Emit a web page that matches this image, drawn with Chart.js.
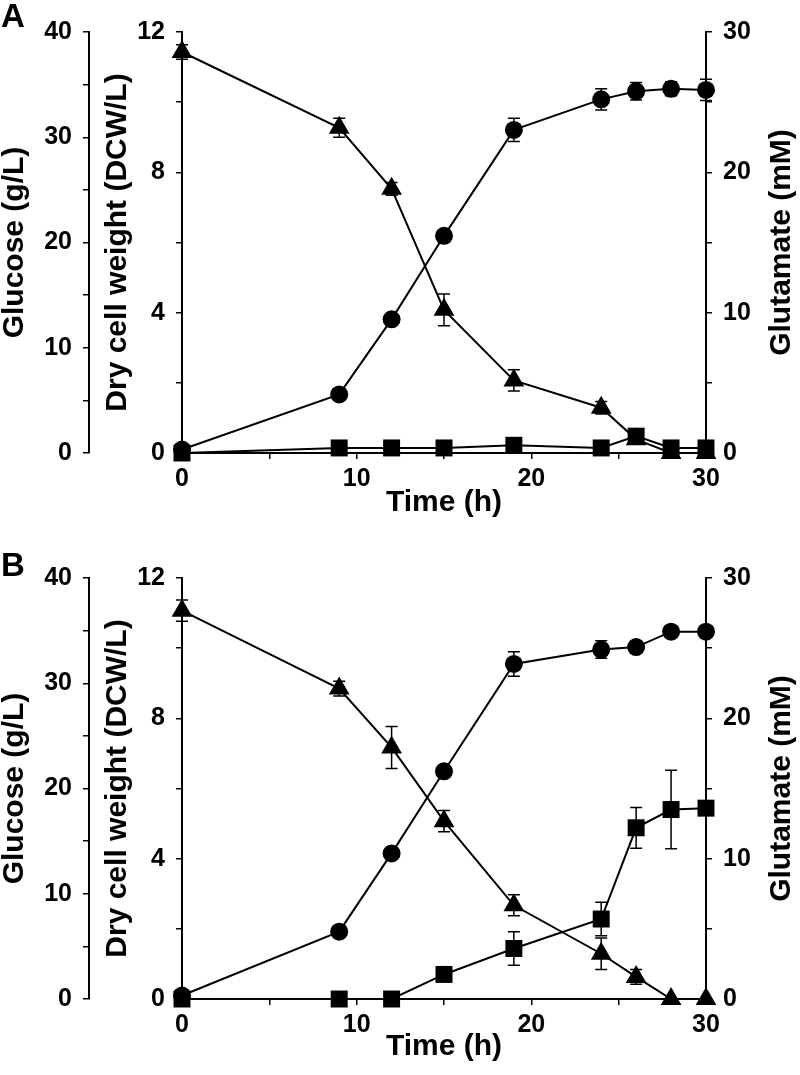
<!DOCTYPE html>
<html>
<head>
<meta charset="utf-8">
<script src="https://cdn.jsdelivr.net/npm/chart.js@4/dist/chart.umd.min.js"></script>
<style>
    body { margin: 0; background: #fff; width: 800px; height: 1075px; position: relative; overflow: hidden; }
    .panel { position: absolute; left: 0; width: 800px; height: 530px; }
    .letter { position: absolute; left: 1px; font: bold 33px "Liberation Sans", Arial, sans-serif; color: #000; }
</style>
</head>
<body>
<div class="panel" style="top:1px"><canvas id="chartA" width="800" height="530"></canvas></div>
<div class="panel" style="top:547px"><canvas id="chartB" width="800" height="528"></canvas></div>
<div class="letter" style="top:-3px">A</div>
<div class="letter" style="top:546px">B</div>
<script>
// Zeitpunkte (h)
const time = [0, 9, 12, 15, 19, 24, 26, 28, 30];

// Panel A
const glucoseA = [38.1, 30.9, 25.1, 13.6, 6.9, 4.3, 1.3, 0, 0];
const glucoseErrA = [0.7, 0.9, 0.6, 1.5, 1.0, 0.6, 0, 0, 0];
const dcwA = [0.1, 1.67, 3.81, 6.19, 9.21, 10.08, 10.31, 10.38, 10.35];
const dcwErrA = [0, 0, 0, 0, 0.33, 0.3, 0.25, 0.2, 0.3];
const glutamateA = [0, 0.36, 0.36, 0.36, 0.55, 0.36, 1.2, 0.36, 0.36];
const glutamateErrA = [0, 0, 0, 0, 0, 0, 0, 0, 0];

// Panel B
const glucoseB = [36.9, 29.5, 23.9, 16.9, 8.9, 4.3, 2.1, 0, 0];
const glucoseErrB = [1.0, 0.7, 2.0, 1.0, 1.0, 1.5, 0.7, 0, 0];
const dcwB = [0.1, 1.92, 4.15, 6.49, 9.55, 9.96, 10.03, 10.47, 10.47];
const dcwErrB = [0, 0, 0, 0, 0.35, 0.25, 0, 0, 0];
const glutamateB = [0, 0, 0, 1.75, 3.6, 5.7, 12.2, 13.5, 13.6];
const glutamateErrB = [0, 0, 0, 0, 1.2, 1.2, 1.45, 2.8, 0];

const FONT = '"Liberation Sans", Arial, sans-serif';
const tickFont = { family: FONT, size: 25, weight: 'bold' };
const titleFont = { family: FONT, size: 30, weight: 'bold', lineHeight: 1 };

// Fehlerbalken ueber die Skalen zeichnen
const errorBars = {
    id: 'errorBars',
    beforeDatasetsDraw(chart) {
        const ctx = chart.ctx;
        const xs = chart.scales.x;
        ctx.save();
        ctx.strokeStyle = '#000';
        ctx.lineWidth = 1.5;
        chart.data.datasets.forEach(ds => {
            const ys = chart.scales[ds.yAxisID];
            ds.data.forEach((p, i) => {
                const e = ds.errors[i];
                if (!e) return;
                const px = xs.getPixelForValue(p.x);
                const top = ys.getPixelForValue(p.y + e);
                const bot = ys.getPixelForValue(Math.max(p.y - e, 0));
                ctx.beginPath();
                ctx.moveTo(px, top); ctx.lineTo(px, bot);
                ctx.moveTo(px - 6, top); ctx.lineTo(px + 6, top);
                ctx.moveTo(px - 6, bot); ctx.lineTo(px + 6, bot);
                ctx.stroke();
            });
        });
        ctx.restore();
    }
};

// rechter Achsentitel liest von unten nach oben
const rightTitle = {
    id: 'rightTitle',
    afterDraw(chart) {
        const s = chart.scales.yM;
        const ctx = chart.ctx;
        ctx.save();
        ctx.translate(s.right - 18, (s.top + s.bottom) / 2);
        ctx.rotate(-Math.PI / 2);
        ctx.font = `bold ${titleFont.size}px ${FONT}`;
        ctx.fillStyle = '#000';
        ctx.textAlign = 'center';
        ctx.textBaseline = 'middle';
        ctx.fillText('Glutamate (mM)', 0, 0);
        ctx.restore();
    }
};

function series(values, errors, axis, style, radius) {
    return {
        data: values.map((v, i) => ({ x: time[i], y: v })),
        errors: errors,
        yAxisID: axis,
        borderColor: '#000',
        backgroundColor: '#000',
        borderWidth: 2,
        pointStyle: style,
        pointRadius: radius,
        pointBorderWidth: 0,
        pointBackgroundColor: '#000',
        tension: 0,
        clip: false
    };
}

function yAxis(position, max, step, every, title, width, weight, titlePad) {
    return {
        type: 'linear',
        position: position,
        weight: weight,
        min: 0,
        max: max,
        afterFit: s => { s.width = width; },
        border: { display: true, color: '#000', width: 2 },
        grid: { drawOnChartArea: false, color: '#000', lineWidth: 1.5, tickLength: 6 },
        ticks: {
            stepSize: step,
            color: '#000',
            font: tickFont,
            padding: 11,
            callback: v => (v % every === 0 ? v : '')
        },
        title: {
            display: title !== '',
            text: title,
            color: '#000',
            font: titleFont,
            padding: titlePad
        }
    };
}

function makeChart(id, glucose, glucoseErr, dcw, dcwErr, glutamate, glutamateErr) {
    const ctx = document.getElementById(id).getContext('2d');
    new Chart(ctx, {
        type: 'line',
        data: {
            datasets: [
                series(glucose, glucoseErr, 'yG', 'triangle', 12),
                series(dcw, dcwErr, 'yD', 'circle', 9),
                series(glutamate, glutamateErr, 'yM', 'rect', 12)
            ]
        },
        options: {
            responsive: false,
            animation: false,
            layout: { padding: { top: 31, left: 0, right: 0, bottom: 0 } },
            plugins: { legend: { display: false }, tooltip: { enabled: false } },
            scales: {
                x: {
                    type: 'linear',
                    min: 0,
                    max: 30,
                    afterFit: s => { s.height = s.chart.height - 452; },
                    border: { display: true, color: '#000', width: 2 },
                    grid: { drawOnChartArea: false, color: '#000', lineWidth: 1.5, tickLength: 6 },
                    ticks: {
                        stepSize: 5,
                        color: '#000',
                        font: tickFont,
                        padding: 5,
                        maxRotation: 0,
                        callback: v => (v % 10 === 0 ? v : '')
                    },
                    title: { display: true, text: 'Time (h)', color: '#000', font: titleFont, padding: { top: 0, bottom: 13 } }
                },
                yG: yAxis('left', 40, 5, 10, 'Glucose (g/L)', 89, 2, { top: 0, bottom: 0 }),
                yD: yAxis('left', 12, 2, 4, 'Dry cell weight (DCW/L)', 93, 1, { top: 14, bottom: 0 }),
                yM: yAxis('right', 30, 5, 10, '', 94, 1, 0)
            }
        },
        plugins: [errorBars, rightTitle]
    });
}

makeChart('chartA', glucoseA, glucoseErrA, dcwA, dcwErrA, glutamateA, glutamateErrA);
makeChart('chartB', glucoseB, glucoseErrB, dcwB, dcwErrB, glutamateB, glutamateErrB);
</script>
</body>
</html>
